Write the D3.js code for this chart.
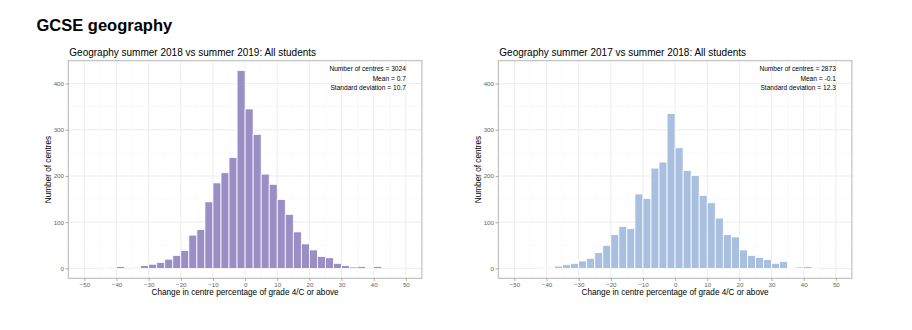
<!DOCTYPE html>
<html>
<head>
<meta charset="utf-8">
<script src="https://cdn.jsdelivr.net/npm/d3@7"></script>
<style>
  html, body { margin: 0; padding: 0; background: #fff; }
  svg { display: block; font-family: "Liberation Sans", Arial, sans-serif; }
</style>
</head>
<body>
<svg id="chart" width="912" height="330"></svg>
<script>
// ---- data ----
const pageTitle = "GCSE geography";
const binStarts = [-45, -42.5, -40, -37.5, -35, -32.5, -30, -27.5, -25, -22.5,
  -20, -17.5, -15, -12.5, -10, -7.5, -5, -2.5, 0, 2.5,
  5, 7.5, 10, 12.5, 15, 17.5, 20, 22.5, 25, 27.5,
  30, 32.5, 35, 37.5, 40, 42.5, 45, 47.5];
const binWidth = 2.5;
const counts2019 = [1, 2, 4, 0, 2, 6, 9, 13, 20, 28,
  39, 72, 84, 144, 185, 207, 240, 428, 345, 290,
  204, 182, 149, 117, 79, 53, 40, 26, 23, 11,
  6, 3, 4, 1, 4, 0, 0, 1];
const counts2018 = [0, 2, 2, 5, 8, 11, 16, 22, 34, 50,
  73, 91, 86, 161, 151, 217, 230, 335, 261, 212,
  201, 158, 142, 109, 73, 68, 40, 28, 24, 19,
  11, 15, 2, 3, 4, 1, 0, 0];
const xTicks = [-50, -40, -30, -20, -10, 0, 10, 20, 30, 40, 50];
const xMinor = [-45, -35, -25, -15, -5, 5, 15, 25, 35, 45];
const yTicks = [0, 100, 200, 300, 400];
const yMinor = [50, 150, 250, 350];
const subtitles = ["Geography summer 2018 vs summer 2019: All students",
                   "Geography summer 2017 vs summer 2018: All students"];
const stats2019 = ["Number of centres = 3024", "Mean = 0.7", "Standard deviation = 10.7"];
const stats2018 = ["Number of centres = 2873", "Mean = -0.1", "Standard deviation = 12.3"];
const xTitle = "Change in centre percentage of grade 4/C or above";
const yTitle = "Number of centres";
const colors = ["#998fc5", "#a8bfdf"];

// ---- drawing ----
(function () {
const svg = d3.select("#chart");
svg.append("text").attr("x", 36.5).attr("y", 31)
  .attr("font-size", 16.5).attr("font-weight", "bold").attr("fill", "#000")
  .text(pageTitle);

const panels = [
  { left: 68.3, counts: counts2019, stats: stats2019, sub: subtitles[0], color: colors[0] },
  { left: 498.3, counts: counts2018, stats: stats2018, sub: subtitles[1], color: colors[1] }
];
const panelW = 353.6, pTop = 60.7, pBottom = 278.3;

panels.forEach(p => {
  const x = d3.scaleLinear().domain([-55, 55]).range([p.left, p.left + panelW]);
  const y = d3.scaleLinear().domain([-21.4, 449.4]).range([pBottom, pTop]);
  const g = svg.append("g");

  // grid
  g.selectAll(".xminor").data(xMinor).join("line")
    .attr("x1", d => x(d)).attr("x2", d => x(d)).attr("y1", pTop).attr("y2", pBottom)
    .attr("stroke", "#f4f4f4").attr("stroke-width", 0.5);
  g.selectAll(".yminor").data(yMinor).join("line")
    .attr("y1", d => y(d)).attr("y2", d => y(d)).attr("x1", p.left).attr("x2", p.left + panelW)
    .attr("stroke", "#f4f4f4").attr("stroke-width", 0.5);
  g.selectAll(".xmaj").data(xTicks).join("line")
    .attr("x1", d => x(d)).attr("x2", d => x(d)).attr("y1", pTop).attr("y2", pBottom)
    .attr("stroke", "#ebebeb").attr("stroke-width", 0.9);
  g.selectAll(".ymaj").data(yTicks).join("line")
    .attr("y1", d => y(d)).attr("y2", d => y(d)).attr("x1", p.left).attr("x2", p.left + panelW)
    .attr("stroke", "#ebebeb").attr("stroke-width", 0.9);

  // bars
  const data = binStarts.map((b, i) => ({ b, c: p.counts[i] })).filter(d => d.c > 0);
  g.selectAll(".bar").data(data).join("rect")
    .attr("x", d => x(d.b)).attr("width", d => x(d.b + binWidth) - x(d.b))
    .attr("y", d => y(d.c)).attr("height", d => y(0) - y(d.c))
    .attr("fill", p.color).attr("stroke", "#fff").attr("stroke-width", 0.8);

  // border
  g.append("rect").attr("x", p.left).attr("y", pTop).attr("width", panelW).attr("height", pBottom - pTop)
    .attr("fill", "none").attr("stroke", "#b5b5b5").attr("stroke-width", 1);

  // axes
  const xAxis = d3.axisBottom(x).tickValues(xTicks).tickSize(2.8).tickPadding(1.5).tickFormat(d3.format("d"));
  const xa = svg.append("g").attr("transform", `translate(0,${pBottom})`).call(xAxis);
  const yAxis = d3.axisLeft(y).tickValues(yTicks).tickSize(2.8).tickPadding(1.5).tickFormat(d3.format("d"));
  const ya = svg.append("g").attr("transform", `translate(${p.left},0)`).call(yAxis);
  [xa, ya].forEach(a => {
    a.select(".domain").remove();
    a.selectAll(".tick line").attr("stroke", "#999").attr("stroke-width", 0.8);
    a.selectAll(".tick text").attr("fill", "#666").attr("font-size", 6.2)
      .attr("font-family", "Liberation Sans, Arial, sans-serif");
  });

  // stats annotation
  p.stats.forEach((s, i) => {
    svg.append("text").attr("x", x(50)).attr("y", 71 + i * 9.6)
      .attr("text-anchor", "end").attr("font-size", 6.6).attr("fill", "#000").text(s);
  });

  // subtitle
  svg.append("text").attr("x", p.left + 1).attr("y", 55.5)
    .attr("font-size", 10).attr("fill", "#000").text(p.sub);

  // axis titles
  svg.append("text").attr("x", p.left + panelW / 2).attr("y", 294.5)
    .attr("text-anchor", "middle").attr("font-size", 8.2).attr("fill", "#000").text(xTitle);
  svg.append("text").attr("transform", `translate(${p.left - 17},${(pTop + pBottom) / 2}) rotate(-90)`)
    .attr("text-anchor", "middle").attr("font-size", 8.2).attr("fill", "#000").text(yTitle);
});
})();
</script>
</body>
</html>
